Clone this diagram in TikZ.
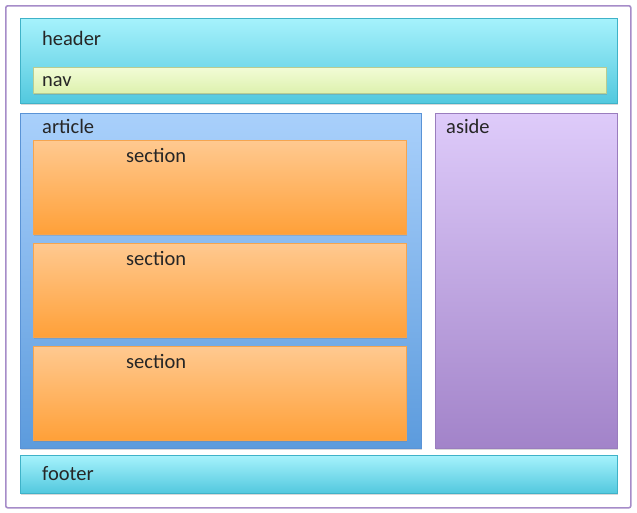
\documentclass[tikz,border=0pt]{standalone}
\usepackage{fontspec}
\setmainfont{Carlito}
\usetikzlibrary{shadows}

\definecolor{frameline}{HTML}{A68CC9}
\definecolor{cyantop}{HTML}{A6F2FC}
\definecolor{cyanbot}{HTML}{52C8DE}
\definecolor{cyanline}{HTML}{3FB2C8}
\definecolor{navtop}{HTML}{F2FCD6}
\definecolor{navbot}{HTML}{DDF1AE}
\definecolor{navline}{HTML}{B8CC92}
\definecolor{bluetop}{HTML}{A9D0FB}
\definecolor{bluebot}{HTML}{5C9BDD}
\definecolor{blueline}{HTML}{5A93D6}
\definecolor{lilactop}{HTML}{DECBFA}
\definecolor{lilacbot}{HTML}{A283C9}
\definecolor{lilacline}{HTML}{9A7DBE}
\definecolor{orangetop}{HTML}{FFC990}
\definecolor{orangebot}{HTML}{FFA038}
\definecolor{orangeline}{HTML}{F5A550}
\definecolor{tagtext}{HTML}{262626}

\begin{document}
\begin{tikzpicture}[x=1pt, y=-1pt,
  box/.style={anchor=north west, inner sep=0pt, line width=0.8pt,
    drop shadow={opacity=0.3, shadow xshift=1pt, shadow yshift=-1.5pt}},
  cyan box/.style={box, draw=cyanline, top color=cyantop, bottom color=cyanbot},
  nav box/.style={box, draw=navline, top color=navtop, bottom color=navbot},
  article box/.style={box, draw=blueline, top color=bluetop, bottom color=bluebot},
  aside box/.style={box, draw=lilacline, top color=lilactop, bottom color=lilacbot},
  section box/.style={box, draw=orangeline, top color=orangetop, bottom color=orangebot},
  tag/.style={anchor=base west, inner sep=0pt, text=tagtext,
    font=\fontsize{20.5}{24}\selectfont}]

\useasboundingbox [fill=white] (0,0) rectangle (637,512);

% outer frame
\node [draw=frameline, line width=1.6pt, rounded corners=2pt, anchor=north west,
  inner sep=0pt, minimum width=625pt, minimum height=502pt] (page) at (5,5) {};

% header and nav
\node [cyan box, minimum width=597pt, minimum height=85pt] (header) at (20,18) {};
\node [tag] (header text) at ([xshift=22pt, yshift=-27pt]header.north west) {header};
\node [nav box, minimum width=573pt, minimum height=26pt] (nav) at (33,67) {};
\node [tag] (nav text) at ([xshift=9pt, yshift=-19pt]nav.north west) {nav};

% article with its sections
\node [article box, minimum width=401pt, minimum height=335pt] (article) at (20,113) {};
\node [tag] (article text) at ([xshift=22pt, yshift=-20pt]article.north west) {article};
\foreach \n [evaluate={\y=140+103*(\n-1);}] in {1,2,3} {
  \node [section box, minimum width=373pt, minimum height=94pt] (section \n) at (33,\y) {};
  \node [tag] (section \n text) at ([xshift=93pt, yshift=-22pt]section \n.north west) {section};
}

% aside
\node [aside box, minimum width=182pt, minimum height=335pt] (aside) at (435,113) {};
\node [tag] (aside text) at ([xshift=11pt, yshift=-20pt]aside.north west) {aside};

% footer
\node [cyan box, minimum width=597pt, minimum height=38pt] (footer) at (20,455) {};
\node [tag] (footer text) at ([xshift=22pt, yshift=-25pt]footer.north west) {footer};
\end{tikzpicture}
\end{document}
